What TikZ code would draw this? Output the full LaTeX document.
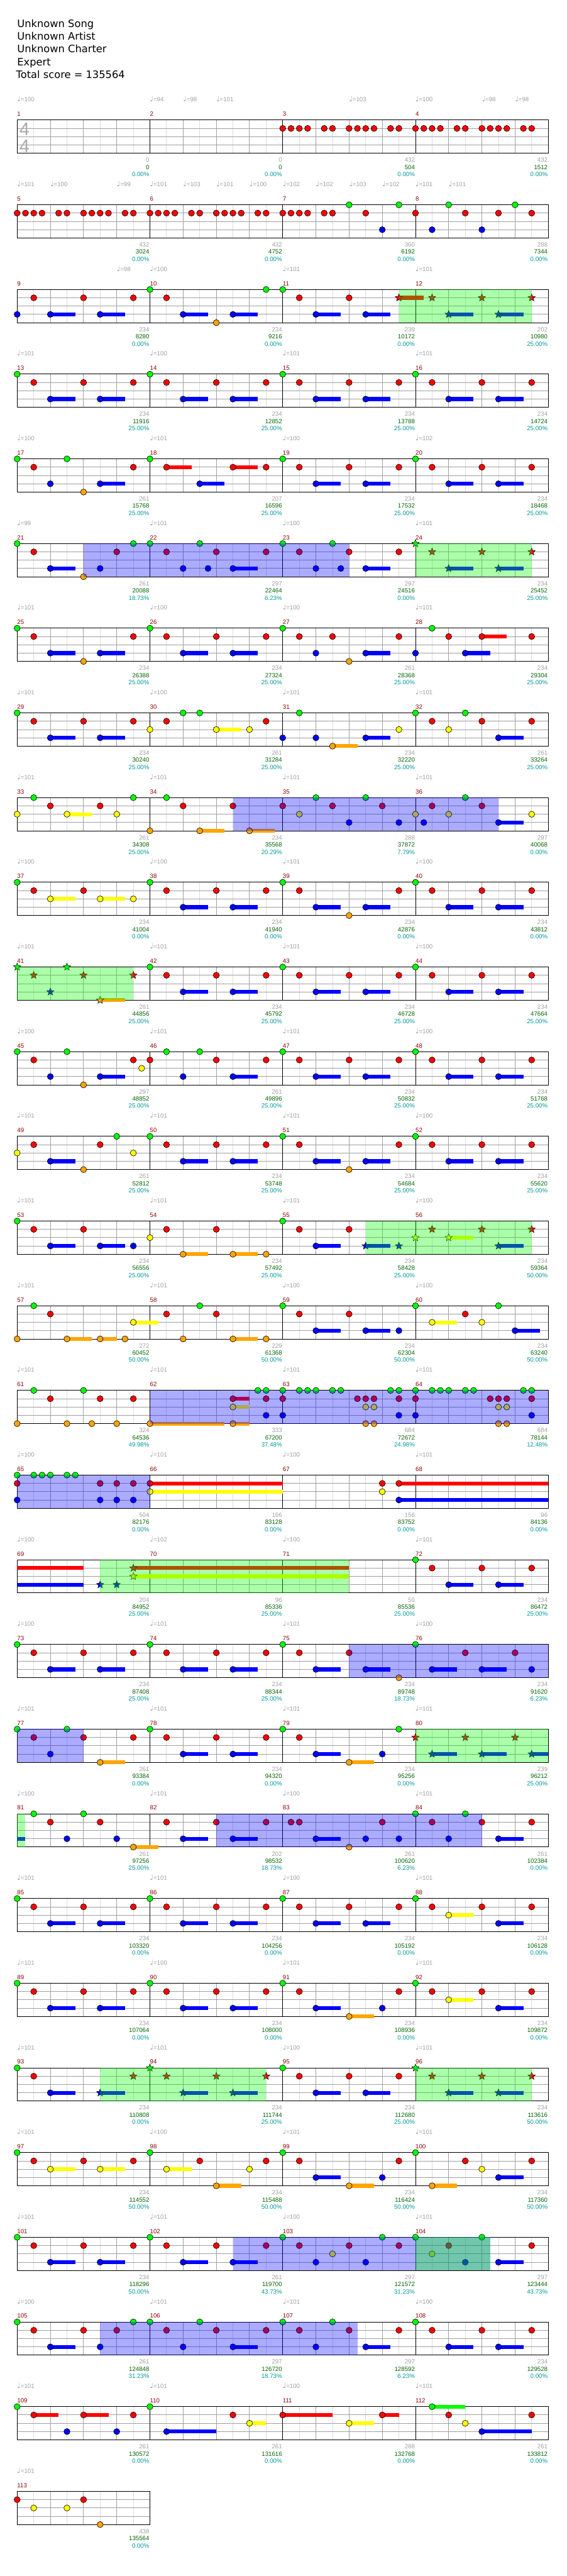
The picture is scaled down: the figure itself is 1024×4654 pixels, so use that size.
\documentclass[tikz,border=0pt]{standalone}
\usepackage{fontspec}
\setmainfont{DejaVu Sans}
\newfontfamily\lab{Liberation Sans}
\newfontfamily\dv{DejaVu Sans}
\usetikzlibrary{shapes.geometric}
\definecolor{nG}{RGB}{0,255,0}
\definecolor{nR}{RGB}{255,0,0}
\definecolor{nY}{RGB}{255,255,0}
\definecolor{nB}{RGB}{0,0,255}
\definecolor{nO}{RGB}{255,165,0}
\definecolor{lg8}{RGB}{220,220,220}
\definecolor{lgb}{RGB}{160,160,160}
\definecolor{tgray}{RGB}{160,160,160}
\definecolor{tsig}{RGB}{170,170,170}
\definecolor{mred}{RGB}{139,0,0}
\definecolor{sgreen}{RGB}{0,100,0}
\definecolor{steal}{RGB}{0,153,153}
\tikzset{
 l8/.style={draw=lg8, line width=1pt},
 lb/.style={draw=lgb, line width=1pt},
 lm/.style={draw=black, line width=1pt},
 mnum/.style={font=\lab\fontsize{11}{11}\selectfont, text=mred, anchor=base west, inner sep=0pt},
 tlab/.style={font=\lab\fontsize{11}{11}\selectfont, text=tgray, anchor=base west, inner sep=0pt},
 slab/.style={font=\lab\fontsize{11}{11}\selectfont, anchor=base east, inner sep=0pt},
 head/.style={draw=black, line width=0.7pt},
 starn/.style={star, star points=5, star point ratio=2.3, minimum size=14pt, inner sep=0pt, draw=black, line width=0.6pt},
 hdr/.style={anchor=base west, inner sep=0pt, font=\dv\fontsize{18.5}{18.5}\selectfont, text=black},
}
\newenvironment{crow}[1]{\begin{scope}[shift={(31,{217+153*(#1-1)})},x=15pt,y=-15pt]}{\end{scope}}
\newcommand\grid[1]{%
 \pgfmathtruncatemacro\W{16*#1}%
 \foreach \i in {2,6,...,\W} {\draw[l8] (\i,0)--(\i,4);}%
 \foreach \i in {4,8,...,\W} {\draw[lb] (\i,0)--(\i,4);}%
 \foreach \i in {1,2,3} {\draw[lb] (0,\i)--(\W,\i);}%
 \ifnum#1>1 \pgfmathtruncatemacro\Wm{\W-16}\foreach \i in {16,32,...,\Wm} {\draw[lm] (\i,0)--(\i,4);}\fi
 \draw[black,line width=1.1pt] (0,0) rectangle (\W,4);}
\newcommand\mnums[2]{\foreach \k in {1,...,#2} {\pgfmathtruncatemacro\m{#1+\k-1}\node[mnum] at ([yshift=7pt]16*\k-16,0) {\m};}}
\newcommand\scores[1]{\foreach \a/\b/\c [count=\k] in {#1} {%
 \node[slab,text=tgray] at ([xshift=-1pt,yshift=-76pt]16*\k,0) {\a};
 \node[slab,text=sgreen] at ([xshift=-1pt,yshift=-89pt]16*\k,0) {\b};
 \node[slab,text=steal] at ([xshift=-1pt,yshift=-102pt]16*\k,0) {\c\%};}}
\newcommand\tempos[1]{\foreach \q/\v in {#1} {\node[tlab] at ([yshift=33pt]\q,0) {{\dv\fontsize{13}{13}\selectfont ♩}=\v};}}
\newcommand\nt[3]{\foreach \q in {#3} {\fill[#1,head] (\q,#2) circle[radius=5.5pt];}}
\newcommand\su[3]{\foreach \q/\w in {#3} {\fill[#1] ([yshift=3.5pt]\q,#2) rectangle ([yshift=-3.5pt]\q+\w,#2); \fill[#1,head] (\q,#2) circle[radius=5.5pt];}}
\newcommand\sbar[3]{\foreach \q/\w in {#3} {\fill[#1] ([yshift=3.5pt]\q,#2) rectangle ([yshift=-3.5pt]\q+\w,#2);}}
\newcommand\sn[3]{\foreach \q in {#3} {\node[starn,fill=#1] at (\q,#2) {};}}
\newcommand\ssu[3]{\foreach \q/\w in {#3} {\fill[#1] ([yshift=3.5pt]\q,#2) rectangle ([yshift=-3.5pt]\q+\w,#2); \node[starn,fill=#1] at (\q,#2) {};}}
\newcommand\gov[2]{\fill[nG,opacity=0.33] (#1,0) rectangle (#2,4);}
\newcommand\bov[2]{\fill[nB,opacity=0.33] (#1,0) rectangle (#2,4);}
\newcommand\pA[1]{\nt{nG}{0}{#1}\nt{nR}{1}{#1+2,#1+8,#1+14}\su{nB}{3}{#1+4/3,#1+10/3}}
\newcommand\pB[1]{\nt{nG}{0}{#1}\nt{nR}{1}{#1+2,#1+14}\nt{nO}{4}{#1+8}\su{nB}{3}{#1+4/3,#1+10/3}}
\newcommand\pR[1]{\nt{nR}{1}{#1,#1+1,#1+2,#1+3,#1+5,#1+6,#1+8,#1+9,#1+10,#1+11,#1+13,#1+14}}
\begin{document}
\begin{tikzpicture}[x=1pt,y=-1pt]
\fill[white] (0,0) rectangle (1024,4654);
\useasboundingbox (0,0) rectangle (1024,4654);
\node[hdr] (h1) at (31,49.3) {Unknown Song};
\node[hdr] (h2) at (31,72.3) {Unknown Artist};
\node[hdr] (h3) at (31,95.3) {Unknown Charter};
\node[hdr] (h4) at (31,118.3) {Expert};
\node[hdr] (h5) at (29,141.3) {Total score = 135564};
% row 1
\begin{crow}{1}
\grid{4}\mnums{1}{4}
\tempos{0/100,16/94,20/98,24/101,40/103,48/100,56/98,60/98}
\node[anchor=base west,inner sep=0pt,font=\lab\fontsize{33}{33}\selectfont,text=tsig] at ([xshift=4pt,yshift=-28pt]0,0) {4};
\node[anchor=base west,inner sep=0pt,font=\lab\fontsize{33}{33}\selectfont,text=tsig] at ([xshift=4pt,yshift=-58pt]0,0) {4};
\pR{32}\pR{48}
\scores{0/0/0.00,0/0/0.00,432/504/0.00,432/1512/0.00}
\end{crow}
% row 2
\begin{crow}{2}
\grid{4}\mnums{5}{4}
\tempos{0/101,4/100,12/99,16/101,20/103,24/101,28/100,32/102,36/102,40/103,44/102,48/101,52/101}
\pR{0}\pR{16}
\nt{nR}{1}{32,33,34,35,37,38,42,48,54,58,62}
\nt{nG}{0}{40,46,52,60}
\nt{nB}{3}{44,50,56}
\scores{432/3024/0.00,432/4752/0.00,360/6192/0.00,288/7344/0.00}
\end{crow}
% row 3
\begin{crow}{3}
\grid{4}\mnums{9}{4}
\tempos{12/98,16/100,32/101,48/101}
\nt{nB}{3}{0}\nt{nR}{1}{2,8,14,18,34,40}\su{nB}{3}{4/3,10/3,20/3,26/3,36/3,42/3}
\nt{nG}{0}{16,30,32}\nt{nO}{4}{24}
\ssu{nR}{1}{46/3}\sn{nR}{1}{50,56,62}\ssu{nB}{3}{52/3,58/3}
\gov{46}{62}
\scores{234/8280/0.00,234/9216/0.00,239/10172/0.00,202/10980/25.00}
\end{crow}
% row 4
\begin{crow}{4}
\grid{4}\mnums{13}{4}
\tempos{0/101,16/100,32/101,48/101}
\pA{0}\pA{16}\pA{32}\pA{48}
\scores{234/11916/25.00,234/12852/25.00,234/13788/25.00,234/14724/25.00}
\end{crow}
% row 5
\begin{crow}{5}
\grid{4}\mnums{17}{4}
\tempos{0/100,16/101,32/100,48/102}
\nt{nG}{0}{0,6,16}\nt{nR}{1}{2,14,30}\nt{nB}{3}{4}\nt{nO}{4}{8}\su{nB}{3}{10/3,22/3}\su{nR}{1}{18/3,26/3}\pA{32}\pA{48}
\scores{261/15768/25.00,207/16596/25.00,234/17532/25.00,234/18468/25.00}
\end{crow}
% row 6
\begin{crow}{6}
\grid{4}\mnums{21}{4}
\tempos{0/99,16/101,32/100,48/101}
\nt{nG}{0}{0,14,16,22,32,38}\nt{nR}{1}{2,12,18,24,30,34,40,46}\su{nB}{3}{4/3,26/3,42/3}\nt{nO}{4}{8}\nt{nB}{3}{10,20,23,36,39}
\sn{nG}{0}{48}\sn{nR}{1}{50,56,62}\ssu{nB}{3}{52/3,58/3}
\bov{8}{40}\gov{48}{62}
\scores{261/20088/18.73,297/22464/6.23,297/24516/0.00,234/25452/25.00}
\end{crow}
% row 7
\begin{crow}{7}
\grid{4}\mnums{25}{4}
\tempos{0/101,16/100,32/100,48/101}
\pB{0}\pA{16}\nt{nG}{0}{32,50}\nt{nR}{1}{34,38,46,52,62}\nt{nB}{3}{36,48}\nt{nO}{4}{40}\su{nB}{3}{42/3,54/3}\su{nR}{1}{56/3}
\scores{234/26388/25.00,234/27324/25.00,261/28368/25.00,234/29304/25.00}
\end{crow}
% row 8
\begin{crow}{8}
\grid{4}\mnums{29}{4}
\tempos{0/101,16/100,32/101,48/101}
\pA{0}\nt{nY}{2}{16,28,46,52}\nt{nR}{1}{18,30,50,56,62}\nt{nG}{0}{20,22,34,48,54}\su{nY}{2}{24/3}\nt{nB}{3}{32,36}\su{nO}{4}{38/3}\su{nB}{3}{42/3,58/3}
\scores{234/30240/25.00,261/31284/25.00,234/32220/25.00,261/33264/25.00}
\end{crow}
% row 9
\begin{crow}{9}
\grid{4}\mnums{33}{4}
\tempos{0/101,16/101,32/101,48/101}
\nt{nY}{2}{0,12,34,48,52,62}\su{nY}{2}{6/3}\nt{nG}{0}{2,14,18,36,42,54}\nt{nR}{1}{4,10,20,26,32,38,44,50,56}\nt{nO}{4}{16}\su{nO}{4}{22/3,28/3}\nt{nB}{3}{40,46,49}\su{nB}{3}{58/3}
\bov{26}{58}
\scores{261/34308/25.00,234/35568/20.29,288/37872/7.79,297/40068/0.00}
\end{crow}
% row 10
\begin{crow}{10}
\grid{4}\mnums{37}{4}
\tempos{0/100,16/100,32/101,48/100}
\nt{nG}{0}{0}\nt{nR}{1}{2,8}\su{nY}{2}{4/3,10/3}\nt{nY}{2}{14}\pA{16}\pB{32}\pA{48}
\scores{234/41004/0.00,234/41940/0.00,234/42876/0.00,234/43812/0.00}
\end{crow}
% row 11
\begin{crow}{11}
\grid{4}\mnums{41}{4}
\tempos{0/101,16/101,32/101,48/100}
\sn{nG}{0}{0,6}\sn{nR}{1}{2,8,14}\sn{nB}{3}{4}\ssu{nO}{4}{10/3}\pA{16}\pA{32}\pA{48}\gov{0}{14}
\scores{261/44856/25.00,234/45792/25.00,234/46728/25.00,234/47664/25.00}
\end{crow}
% row 12
\begin{crow}{12}
\grid{4}\mnums{45}{4}
\tempos{0/100,16/101,32/101,48/100}
\nt{nG}{0}{0,6,18,22}\nt{nR}{1}{2,14,16,24,30}\nt{nB}{3}{4,20}\nt{nO}{4}{8}\su{nB}{3}{10/3,26/3}\nt{nY}{2}{15}\pA{32}\pA{48}
\scores{297/48852/25.00,261/49896/25.00,234/50832/25.00,234/51768/25.00}
\end{crow}
% row 13
\begin{crow}{13}
\grid{4}\mnums{49}{4}
\tempos{0/101,16/101,32/101,48/100}
\nt{nY}{2}{0,14}\nt{nR}{1}{2,10}\su{nB}{3}{4/3}\nt{nO}{4}{8}\nt{nG}{0}{12}\pA{16}\pB{32}\pA{48}
\scores{261/52812/25.00,234/53748/25.00,234/54684/25.00,234/55620/25.00}
\end{crow}
% row 14
\begin{crow}{14}
\grid{4}\mnums{53}{4}
\tempos{0/101,16/101,32/101,48/100}
\nt{nG}{0}{0,32}\nt{nR}{1}{2,8,18,24,34,40}\su{nB}{3}{4/3,10/3,36/3}\nt{nB}{3}{14}\nt{nY}{2}{16}\su{nO}{4}{20/3,26/3}\nt{nO}{4}{30}
\ssu{nB}{3}{42/3,58/3}\sn{nB}{3}{46}\sn{nY}{2}{48}\sn{nR}{1}{50,56,62}\ssu{nY}{2}{52/3}
\gov{42}{62}
\scores{234/56556/25.00,234/57492/25.00,234/58428/25.00,234/59364/50.00}
\end{crow}
% row 15
\begin{crow}{15}
\grid{4}\mnums{57}{4}
\tempos{0/101,16/101,32/100,48/100}
\nt{nO}{4}{0,13,20,30}\nt{nG}{0}{2,22,32,48,58}\nt{nR}{1}{4,18,24,34,40,54}\su{nO}{4}{6/3,10/2,26/3}\su{nY}{2}{14/3,50/3}\su{nB}{3}{36/3,42/3,60/3}\nt{nB}{3}{46}\nt{nY}{2}{56}
\scores{272/60452/50.00,229/61368/50.00,234/62304/50.00,234/63240/50.00}
\end{crow}
% row 16
\begin{crow}{16}
\grid{4}\mnums{61}{4}
\tempos{0/101,16/101,32/101,48/101}
\nt{nO}{4}{0,6,9,12}\nt{nG}{0}{2,8}\nt{nR}{1}{4,10,14}
\su{nO}{4}{16/9,26/2}\su{nR}{1}{26/2}\su{nY}{2}{26/2}
\nt{nG}{0}{29,30,32,34,35,36,38,39,45,46,48,50,51,52,54,55,61,62}
\nt{nR}{1}{30,32,41,42,43,46,48,57,58,59,62}
\nt{nY}{2}{42,43,58,59}\nt{nO}{4}{42,43,58,59}\nt{nB}{3}{30,32,46,48,62}
\bov{16}{64}
\scores{324/64536/49.98,333/67200/37.48,684/72672/24.98,684/78144/12.48}
\end{crow}
% row 17
\begin{crow}{17}
\grid{4}\mnums{65}{4}
\tempos{0/100,16/101,32/100,48/101}
\nt{nG}{0}{0,2,3,4,6,7}\nt{nR}{1}{0,10,12,14,44}\nt{nB}{3}{0,10,12,14}\su{nR}{1}{16/16,46/18}\su{nY}{2}{16/16}\nt{nY}{2}{44}\su{nB}{3}{46/18}
\bov{0}{16}
\scores{504/82176/0.00,166/83128/0.00,156/83752/0.00,96/84136/0.00}
\end{crow}
% row 18
\begin{crow}{18}
\grid{4}\mnums{69}{4}
\tempos{0/100,16/102,32/100,48/101}
\sbar{nR}{1}{0/8}\sbar{nB}{3}{0/8}\sn{nB}{3}{10,12}\ssu{nR}{1}{14/26}\ssu{nY}{2}{14/26}\pA{48}\gov{10}{40}
\scores{204/84952/25.00,96/85336/25.00,50/85536/25.00,234/86472/25.00}
\end{crow}
% row 19
\begin{crow}{19}
\grid{4}\mnums{73}{4}
\tempos{0/100,16/101,32/101,48/100}
\pA{0}\pA{16}\nt{nG}{0}{32,48}\nt{nR}{1}{34,40,54,60}\su{nB}{3}{36/3,42/3,50/3,56/3}\nt{nO}{4}{46}\nt{nB}{3}{62}\bov{40}{64}
\scores{234/87408/25.00,234/88344/25.00,234/89748/18.73,234/91620/6.23}
\end{crow}
% row 20
\begin{crow}{20}
\grid{4}\mnums{77}{4}
\tempos{0/101,16/101,32/101,48/101}
\nt{nG}{0}{0,6,32,46}\nt{nR}{1}{2,8,14,34}\nt{nB}{3}{4,44}\su{nO}{4}{10/3,40/3}\pA{16}\su{nB}{3}{36/3}
\sn{nR}{1}{48,54,60}\ssu{nB}{3}{50/3,56/3,62/2}
\bov{0}{8}\gov{48}{64}
\scores{261/93384/0.00,234/94320/0.00,234/95256/0.00,239/96212/25.00}
\end{crow}
% row 21
\begin{crow}{21}
\grid{4}\mnums{81}{4}
\tempos{0/100,16/101,32/100,48/101}
\sbar{nB}{3}{0/1}\nt{nG}{0}{2,8,48,54}\nt{nR}{1}{4,10,18,24,30,33,34,44,50,56,62}\nt{nB}{3}{6,12,42,46,52}\su{nO}{4}{14/3}\su{nB}{3}{20/3,26/3,36/3,58/3}\nt{nO}{4}{40}
\gov{0}{1}\bov{24}{56}
\scores{261/97256/25.00,202/98532/18.73,261/100620/6.23,261/102384/0.00}
\end{crow}
% row 22
\begin{crow}{22}
\grid{4}\mnums{85}{4}
\tempos{0/101,16/101,32/100,48/101}
\pA{0}\pA{16}\pA{32}\nt{nG}{0}{48}\nt{nR}{1}{50,56,62}\su{nY}{2}{52/3}\su{nB}{3}{58/3}
\scores{234/103320/0.00,234/104256/0.00,234/105192/0.00,234/106128/0.00}
\end{crow}
% row 23
\begin{crow}{23}
\grid{4}\mnums{89}{4}
\tempos{0/101,16/100,32/101,48/101}
\pA{0}\pA{16}\nt{nG}{0}{32,48}\nt{nR}{1}{34,46,50,56,62}\su{nB}{3}{36/3,58/3}\su{nO}{4}{40/3}\nt{nB}{3}{44}\su{nY}{2}{52/3}
\scores{234/107064/0.00,234/108000/0.00,234/108936/0.00,234/109872/0.00}
\end{crow}
% row 24
\begin{crow}{24}
\grid{4}\mnums{93}{4}
\tempos{0/101,16/101,32/100,48/101}
\nt{nG}{0}{0}\nt{nR}{1}{2}\su{nB}{3}{4/3}
\ssu{nB}{3}{10/3,20/3,26/3}\sn{nR}{1}{14,18,24,30}\sn{nG}{0}{16}
\pA{32}
\sn{nG}{0}{48}\sn{nR}{1}{50,56,62}\ssu{nB}{3}{52/3,58/3}
\gov{10}{30}\gov{48}{62}
\scores{234/110808/0.00,234/111744/25.00,234/112680/25.00,234/113616/50.00}
\end{crow}
% row 25
\begin{crow}{25}
\grid{4}\mnums{97}{4}
\tempos{0/101,16/100,32/101,48/101}
\nt{nG}{0}{0,16,32,48}\nt{nR}{1}{2,8,14,22,30,34,46,54,62}\su{nY}{2}{4/3,10/3,18/3}\su{nO}{4}{24/3,40/3,50/3}\nt{nY}{2}{28,56}\su{nB}{3}{36/3,58/3}\nt{nB}{3}{44}
\scores{234/114552/50.00,234/115488/50.00,234/116424/50.00,234/117360/50.00}
\end{crow}
% row 26
\begin{crow}{26}
\grid{4}\mnums{101}{4}
\tempos{0/101,16/101,32/100,48/101}
\pA{0}\nt{nG}{0}{16,32,44,48,56}\nt{nR}{1}{18,24,30,34,40,46,52,62}\su{nB}{3}{20/3,26/3,58/3}\nt{nB}{3}{36,42,54}\nt{nY}{2}{38,50}
\bov{26}{57}\gov{48}{57}
\scores{234/118296/50.00,261/119700/43.73,297/121572/31.23,297/123444/43.73}
\end{crow}
% row 27
\begin{crow}{27}
\grid{4}\mnums{105}{4}
\tempos{0/100,16/101,32/101,48/100}
\nt{nG}{0}{0,14,16,22,32,38}\nt{nR}{1}{2,8,12,18,24,30,34,40,46}\su{nB}{3}{4/3,26/3,42/3}\nt{nB}{3}{10,20,36}\pA{48}
\bov{10}{41}
\scores{261/124848/31.23,297/126720/18.73,297/128592/6.23,234/129528/0.00}
\end{crow}
% row 28
\begin{crow}{28}
\grid{4}\mnums{109}{4}
\tempos{0/101,16/101,32/100,48/101}
\nt{nG}{0}{0,16}\su{nR}{1}{2/3,8/3,32/6,44/2}\nt{nB}{3}{6,12}\nt{nR}{1}{14,26,52,62}\su{nB}{3}{18/6,56/6}\su{nY}{2}{28/2,40/3}\nt{nY}{2}{54}\su{nG}{0}{50/4}
\scores{261/130572/0.00,261/131616/0.00,288/132768/0.00,261/133812/0.00}
\end{crow}
% row 29
\begin{crow}{29}
\grid{1}\mnums{113}{1}
\tempos{0/101}
\nt{nR}{1}{0,8}\nt{nY}{2}{2,6}\nt{nO}{4}{10}
\scores{438/135564/0.00}
\end{crow}
\end{tikzpicture}
\end{document}
